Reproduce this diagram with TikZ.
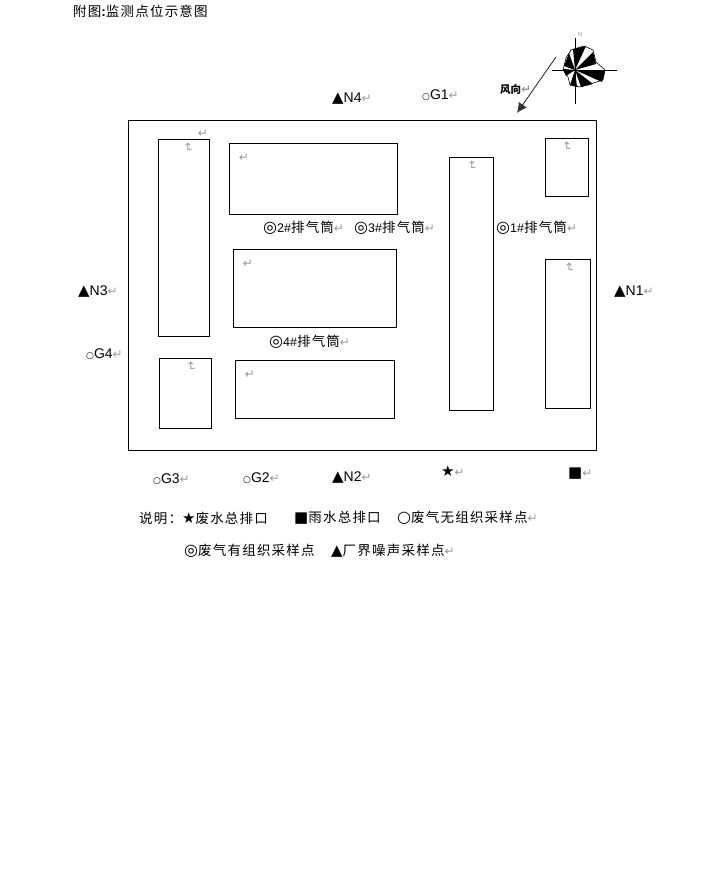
\documentclass[tikz,border=0pt]{standalone}
\usepackage{fontspec}
\setmainfont{Liberation Sans}
\newfontfamily\cjk{Noto Sans CJK SC}
\newfontfamily\cjkwide[LetterSpace=9]{Noto Sans CJK SC}
\newfontfamily\sym{DejaVu Sans}
\usetikzlibrary{positioning, arrows.meta, calc}
\definecolor{markGray}{HTML}{999999}
\tikzstyle{room} =[draw, line width=0.9pt, anchor=north west, inner sep=0pt]
\tikzstyle{point} =[anchor=west, inner sep=0pt, font=\fontsize{14}{16}\selectfont]
\tikzstyle{label} =[anchor=west, inner sep=0pt, font=\fontsize{13.5}{15}\cjkwide]
\tikzstyle{retmark} =[inner sep=0pt, text=markGray, font=\fontsize{12}{13}\sym]
\newcommand{\rt}{\textcolor{markGray}{\fontsize{12}{13}\sym ↵}}
\newcommand{\tri}{{\fontsize{15}{16}\sym ▲}}
\newcommand{\smallring}{{\fontsize{9}{10}\sym ○}}
\newcommand{\ring}{{\fontsize{16}{16}\sym ○}}
\newcommand{\dring}{{\fontsize{16}{16}\sym ◎}}
\newcommand{\bigstar}{{\fontsize{15}{16}\sym ★}}
\newcommand{\bigsquare}{{\fontsize{15}{16}\sym ■}}
\newcommand{\stackno}[1]{{\fontsize{12.5}{14}\rmfamily #1\#}}
\begin{document}
\begin{tikzpicture}[x=1pt, y=-1pt]
\useasboundingbox (0,0) rectangle (719,888);

\node (title) [label] at (73,11.5) {附图{\bfseries\rmfamily :}监测点位示意图};

% site and rooms
\node (site) [room, minimum width=468pt, minimum height=330pt] at (128,120) {};
\node (roomA) [room, minimum width=51pt, minimum height=197pt] at (158,139) {};
\node (roomB) [room, minimum width=168pt, minimum height=71pt] at (229,143) {};
\node (roomC) [room, minimum width=163pt, minimum height=78pt] at (233,249) {};
\node (roomD) [room, minimum width=52pt, minimum height=70pt] at (159,358) {};
\node (roomE) [room, minimum width=159pt, minimum height=58pt] at (235,360) {};
\node (roomF) [room, minimum width=44pt, minimum height=253pt] at (449,157) {};
\node (roomG) [room, minimum width=43pt, minimum height=58pt] at (545,138) {};
\node (roomH) [room, minimum width=45pt, minimum height=149pt] at (545,259) {};

% marks inside rooms
\node (markA) [retmark, rotate=-90] at (188,148) {↵};
\node (markA2) [retmark] at (203,134) {↵};
\node (markB) [retmark] at (244,158) {↵};
\node (markC) [retmark] at (248,264) {↵};
\node (markD) [retmark, rotate=-90] at (191,367) {↵};
\node (markE) [retmark] at (250,375) {↵};
\node (markF) [retmark, rotate=-90] at (472,166) {↵};
\node (markG) [retmark, rotate=-90] at (567,147) {↵};
\node (markH) [retmark, rotate=-90] at (569,268) {↵};

% monitoring points
\node (N4) [point] at (332,99) {\tri N4\rt};
\node (G1) [point] at (422,95) {\smallring G1\rt};
\node (N3) [point] at (78,292) {\tri N3\rt};
\node (N1) [point] at (614,292) {\tri N1\rt};
\node (G4) [point] at (86,354) {\smallring G4\rt};
\node (G3) [point] at (153,479) {\smallring G3\rt};
\node (G2) [point] at (243,478) {\smallring G2\rt};
\node (N2) [point] at (332,478) {\tri N2\rt};
\node (star) [point] at (441,471) {\bigstar\rt};
\node (square) [point] at (568,474) {\bigsquare\rt};

% stacks
\node (stack2) [label] at (263,228) {\dring\stackno{2}排气筒\rt};
\node (stack3) [label] at (354,228) {\dring\stackno{3}排气筒\rt};
\node (stack1) [label] at (496,228) {\dring\stackno{1}排气筒\rt};
\node (stack4) [label] at (269,342) {\dring\stackno{4}排气筒\rt};

% legend
\node (legendA) [label] at (139,518) {说明：\bigstar 废水总排口};
\node (legendB) [label] at (294,518) {\bigsquare 雨水总排口};
\node (legendC) [label] at (397,518) {\ring 废气无组织采样点\rt};
\node (legendD) [label] at (184,551) {\dring 废气有组织采样点};
\node (legendE) [label] at (331,551) {\tri 厂界噪声采样点\rt};

% wind rose
\coordinate (rose) at (575,70);
\coordinate (windStart) at (556,57);
\coordinate (windEnd) at (517,113);
\node (windLabel) [anchor=west, inner sep=0pt, font=\fontsize{10.5}{12}\cjk\bfseries] at (500,89.5) {风向\rt};
\node (north) [inner sep=0pt, text=markGray, font=\fontsize{6}{7}\selectfont] at (580,34) {N};

\draw[line width=0.6pt, fill=white]
	(571,50) -- (584,46) -- (593,50) -- (596,62) -- (605,70) -- (603,80) -- (580,87) -- (570,85) -- (568,77) -- (563,70) -- (566,58) -- cycle;
\fill[black] (rose) -- (573,49) -- (586,46) -- cycle;
\fill[black] (rose) -- (593,52) -- (596,64) -- cycle;
\fill[black] (rose) -- (605,71) -- (602,82) -- cycle;
\fill[black] (rose) -- (593,84) -- (581,87) -- cycle;
\fill[black] (rose) -- (577,87) -- (570,85) -- cycle;
\fill[black] (rose) -- (569,53) -- (564,66) -- cycle;
\fill[black] (rose) -- (563,69) -- (566,76) -- cycle;
\draw[line width=0.9pt] (552,70) -- (617,70);
\draw[line width=0.9pt] (575,38) -- (575,104);

\draw[-{Latex[length=10pt, width=10pt]}, line width=0.9pt, black!80] (windStart) -- (windEnd);
\end{tikzpicture}
\end{document}
